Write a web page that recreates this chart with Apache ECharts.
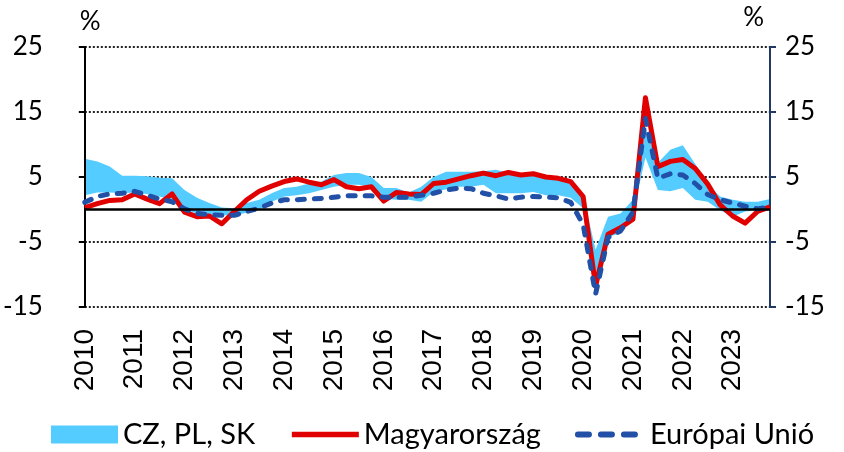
<!DOCTYPE html>
<html>
<head>
<meta charset="utf-8">
<script src="https://cdn.jsdelivr.net/npm/echarts@6/dist/echarts.min.js"></script>
<style>
  html, body { margin: 0; padding: 0; background: #fff; }
  #main { width: 844px; height: 452px; }
</style>
</head>
<body>
<div id="main"></div>
<script>
// tick labels: one per year, data is quarterly (2010 Q1 .. 2023 Q4)
const years = ['2010', '2011', '2012', '2013', '2014', '2015', '2016',
  '2017', '2018', '2019', '2020', '2021', '2022', '2023'];
const quarters = [];
years.forEach(y => { for (let q = 1; q <= 4; q++) quarters.push(y + ' Q' + q); });

// CZ, PL, SK range (lower / upper edge)
const bandLow = [2.2, 2.6, 2.6, 2.5, 2.6, 2.4, 2.0, 1.5,
  0.0, -0.6, -0.8, -0.9, -0.9, -0.5, 0.0, 1.2,
  2.0, 2.2, 2.5, 3.0, 3.5, 3.8, 3.8, 3.5,
  1.7, 1.5, 1.5, 1.2, 2.7, 3.1, 3.5, 3.5,
  3.8, 2.5, 2.5, 2.5, 2.7, 2.2, 2.2, 1.8,
  0.2, -10.8, -4.2, -3.7, -0.6, 8.0, 3.0, 2.8,
  3.3, 1.5, 1.2, -0.1, -1.1, -0.3, -0.1, 0.2];
const bandHigh = [7.8, 7.4, 6.6, 5.2, 5.2, 5.1, 4.9, 4.8,
  3.0, 1.8, 1.0, 0.3, 0.2, 1.0, 1.5, 2.5,
  3.3, 3.5, 4.0, 4.3, 5.3, 5.6, 5.6, 5.0,
  3.3, 3.3, 2.6, 3.5, 5.0, 5.8, 5.8, 5.8,
  5.9, 6.1, 5.6, 5.5, 5.4, 5.1, 5.0, 4.6,
  2.2, -6.2, -1.1, -0.6, 1.5, 12.5, 7.2, 9.2,
  9.9, 7.0, 3.8, 2.0, 1.5, 1.2, 1.2, 1.6];

// Magyarország
const hungary = [0.3, 0.9, 1.4, 1.5, 2.4, 1.6, 0.9, 2.4,
  -0.4, -1.1, -1.0, -2.2, -0.3, 1.5, 2.8, 3.6,
  4.3, 4.7, 4.2, 3.8, 4.6, 3.5, 3.2, 3.5,
  1.3, 2.6, 2.4, 2.3, 4.0, 4.2, 4.7, 5.2,
  5.6, 5.2, 5.7, 5.3, 5.5, 5.0, 4.8, 4.3,
  2.0, -11.8, -3.8, -2.8, -1.5, 17.2, 6.6, 7.4,
  7.7, 6.3, 3.9, 0.7, -1.0, -2.1, -0.3, 0.4];

// Európai Unió
const eu = [1.1, 2.0, 2.4, 2.5, 2.8, 2.2, 1.6, 1.2,
  0.1, -0.6, -0.8, -0.9, -0.9, -0.3, 0.2, 1.0,
  1.5, 1.5, 1.6, 1.7, 1.9, 2.1, 2.1, 2.1,
  1.9, 1.9, 1.9, 2.2, 2.5, 3.0, 3.3, 3.2,
  2.5, 2.1, 1.6, 1.9, 2.0, 1.9, 1.8, 1.1,
  -2.3, -13.0, -4.3, -3.3, -0.4, 14.0, 4.8, 5.5,
  5.3, 4.0, 2.3, 1.5, 1.0, 0.5, 0.1, 0.4];

const bandSpan = bandHigh.map((v, i) => +(v - bandLow[i]).toFixed(2));

const BAND = '#55CCFF';
const RED = '#E00000';
const BLUE = '#2150A6';
const NAVY = '#1F3864';

const chart = echarts.init(document.getElementById('main'));

const yLabel = { color: '#000', fontSize: 26, fontFamily: 'Lato' };
const noSymbol = { opacity: 0 };

chart.setOption({
  animation: false,
  grid: { left: 82, right: 74, top: 47, bottom: 145 },
  legend: {
    data: [
      { name: 'CZ, PL, SK', icon: 'rect' },
      { name: 'Magyarország', itemStyle: noSymbol, lineStyle: { width: 5.5 } },
      { name: 'Európai Unió', itemStyle: noSymbol,
        lineStyle: { width: 6, type: [11, 12], cap: 'round' } }
    ],
    left: 46,
    top: 415,
    itemWidth: 67,
    itemHeight: 18,
    itemGap: 34,
    textStyle: { color: '#000', fontSize: 29, fontFamily: 'Lato' }
  },
  xAxis: {
    type: 'category',
    data: quarters,
    boundaryGap: false,
    axisLine: { show: false },
    axisTick: { show: false },
    axisLabel: {
      interval: 3,
      rotate: 90,
      margin: 22,
      color: '#000',
      fontSize: 28,
      fontFamily: 'Liberation Sans',
      formatter: v => v.slice(0, 4)
    },
    splitLine: { show: false }
  },
  yAxis: [{
    type: 'value',
    min: -15, max: 25, interval: 10,
    name: '%',
    nameLocation: 'end',
    nameGap: 12,
    nameTextStyle: { color: '#000', fontSize: 26, fontFamily: 'Lato', align: 'left', padding: [0, 0, 0, -5] },
    axisLine: { show: true, lineStyle: { color: '#000', width: 2 } },
    axisTick: { show: true, length: 6, lineStyle: { color: '#000', width: 2 } },
    axisLabel: Object.assign({ margin: 42 }, yLabel),
    splitLine: { show: true, lineStyle: { color: '#222', width: 2, type: [2, 2] } }
  }, {
    type: 'value',
    position: 'right',
    min: -15, max: 25, interval: 10,
    name: '%',
    nameLocation: 'end',
    nameGap: 16,
    nameTextStyle: { color: '#000', fontSize: 26, fontFamily: 'Lato', align: 'right', padding: [0, 6, 0, 0] },
    axisLine: { show: true, lineStyle: { color: NAVY, width: 2 } },
    axisTick: { show: true, length: 6, lineStyle: { color: NAVY, width: 2 } },
    axisLabel: Object.assign({ margin: 15 }, yLabel),
    splitLine: { show: false }
  }],
  series: [{
    name: 'band-base',
    type: 'line',
    data: bandLow,
    stack: 'band',
    stackStrategy: 'all',
    symbol: 'none',
    lineStyle: { width: 0, opacity: 0 },
    silent: true,
    z: 1,
    markLine: {
      silent: true,
      symbol: 'none',
      label: { show: false },
      lineStyle: { color: '#000', width: 2.5, type: 'solid' },
      data: [{ yAxis: 0 }]
    }
  }, {
    name: 'CZ, PL, SK',
    type: 'line',
    data: bandSpan,
    stack: 'band',
    stackStrategy: 'all',
    symbol: 'none',
    lineStyle: { width: 0, opacity: 0 },
    itemStyle: { color: BAND },
    areaStyle: { color: BAND, opacity: 1 },
    z: 0
  }, {
    name: 'Magyarország',
    type: 'line',
    data: hungary,
    symbol: 'none',
    itemStyle: { color: RED },
    lineStyle: { color: RED, width: 5, join: 'round' },
    z: 3
  }, {
    name: 'Európai Unió',
    type: 'line',
    data: eu,
    symbol: 'none',
    itemStyle: { color: BLUE },
    lineStyle: { color: BLUE, width: 5, type: [7, 10], cap: 'round', join: 'round' },
    z: 4
  }]
});
</script>
</body>
</html>
